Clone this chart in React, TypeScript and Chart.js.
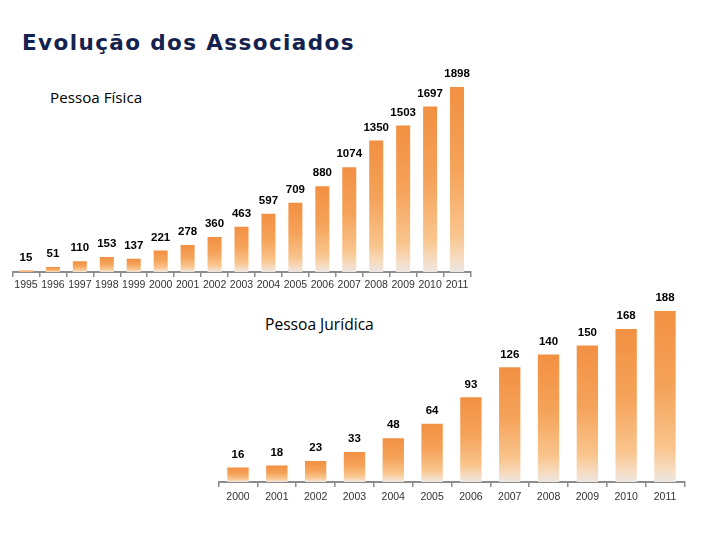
import React, { useEffect, useRef } from "react";
import { Chart, registerables } from "chart.js";

Chart.register(...registerables);

const pfYears = ["1995","1996","1997","1998","1999","2000","2001","2002","2003","2004","2005","2006","2007","2008","2009","2010","2011"];
const pfValues = [15, 51, 110, 153, 137, 221, 278, 360, 463, 597, 709, 880, 1074, 1350, 1503, 1697, 1898];
const pjYears = ["2000","2001","2002","2003","2004","2005","2006","2007","2008","2009","2010","2011"];
const pjValues = [16, 18, 23, 33, 48, 64, 93, 126, 140, 150, 168, 188];

const labelPlugin = {
  id: "valueLabels",
  afterDatasetsDraw(chart: any) {
    const ctx = chart.ctx;
    const meta = chart.getDatasetMeta(0);
    const data = chart.data.datasets[0].data;
    ctx.save();
    ctx.font = "bold 11.5px 'Liberation Sans', Arial, sans-serif";
    ctx.fillStyle = "#000";
    ctx.textAlign = "center";
    ctx.textBaseline = "middle";
    meta.data.forEach((el: any, i: number) => {
      ctx.fillText(String(data[i]), el.x, el.y - 13);
    });
    ctx.restore();
  },
};

function barGradient(c: any) {
  const chart = c.chart;
  const yScale = chart.scales && chart.scales.y;
  if (!yScale || c.dataIndex === undefined) return "#f39748";
  const v = c.dataset.data[c.dataIndex];
  const top = yScale.getPixelForValue(v);
  const base = yScale.getPixelForValue(0);
  if (!isFinite(top) || !isFinite(base) || base - top < 1) return "#f39748";
  const g = chart.ctx.createLinearGradient(0, top, 0, base);
  g.addColorStop(0, "#f29042");
  g.addColorStop(0.45, "#f5a35a");
  g.addColorStop(0.8, "#f9c58d");
  g.addColorStop(0.93, "#f6dcc2");
  g.addColorStop(1, "#ebe6e2");
  return g;
}

function makeConfig(labels: string[], values: number[], max: number, barPct: number, padding: any, tickPad: number) {
  return {
    type: "bar" as const,
    data: {
      labels,
      datasets: [
        {
          data: values,
          backgroundColor: barGradient,
          borderWidth: 0,
          categoryPercentage: 1,
          barPercentage: barPct,
        },
      ],
    },
    options: {
      animation: false as const,
      responsive: false,
      maintainAspectRatio: false,
      layout: { padding },
      plugins: { legend: { display: false }, tooltip: { enabled: false } },
      scales: {
        x: {
          grid: {
            display: true,
            drawOnChartArea: false,
            drawTicks: true,
            tickLength: 5,
            color: "#8c8c8c",
            lineWidth: 1.5,
            offset: true,
          },
          border: { display: true, color: "#8c8c8c", width: 2 },
          ticks: {
            color: "#333",
            font: { family: "'Liberation Sans', Arial, sans-serif", size: 10.5 },
            padding: tickPad,
            maxRotation: 0,
            autoSkip: false,
          },
        },
        y: { display: false, min: 0, max },
      },
    },
    plugins: [labelPlugin],
  };
}

function BarCanvas(props: { cfg: any; style: React.CSSProperties; w: number; h: number }) {
  const ref = useRef<HTMLCanvasElement>(null);
  useEffect(() => {
    if (!ref.current) return;
    const ch = new Chart(ref.current, props.cfg);
    return () => ch.destroy();
  }, []);
  return <canvas ref={ref} width={props.w} height={props.h} style={{ position: "absolute", width: props.w, height: props.h, ...props.style }} />;
}

export default function App() {
  const topCfg = makeConfig(pfYears, pfValues, 2000, 0.52, { left: 12.5, right: 9.5, top: 17, bottom: 6.4 }, 2);
  const botCfg = makeConfig(pjYears, pjValues, 200, 0.55, { left: 18.6, right: 15.6, top: 20, bottom: 12.4 }, 4);
  return (
    <div style={{ position: "fixed", left: 0, top: 0, width: 720, height: 540, background: "#fff", overflow: "hidden" }}>
      <div
        style={{
          position: "absolute",
          left: 22,
          top: 30,
          lineHeight: "26px",
          fontFamily: "'DejaVu Sans', Verdana, sans-serif",
          fontWeight: "bold",
          fontSize: 21.5,
          letterSpacing: 1.4,
          color: "#13224f",
          whiteSpace: "nowrap",
        }}
      >
        Evolução dos Associados
      </div>
      <div style={{ position: "absolute", left: 50, top: 87, lineHeight: "20px", fontFamily: "'Open Sans', sans-serif", fontSize: 15.2, color: "#000", whiteSpace: "nowrap" }}>
        Pessoa Física
      </div>
      <div style={{ position: "absolute", left: 265, top: 314, lineHeight: "20px", fontFamily: "'Open Sans', sans-serif", fontSize: 15.6, color: "#000", whiteSpace: "nowrap" }}>
        Pessoa Jurídica
      </div>
      <BarCanvas cfg={topCfg} w={480} h={240} style={{ left: 0, top: 60 }} />
      <BarCanvas cfg={botCfg} w={500} h={240} style={{ left: 200, top: 280 }} />
    </div>
  );
}
